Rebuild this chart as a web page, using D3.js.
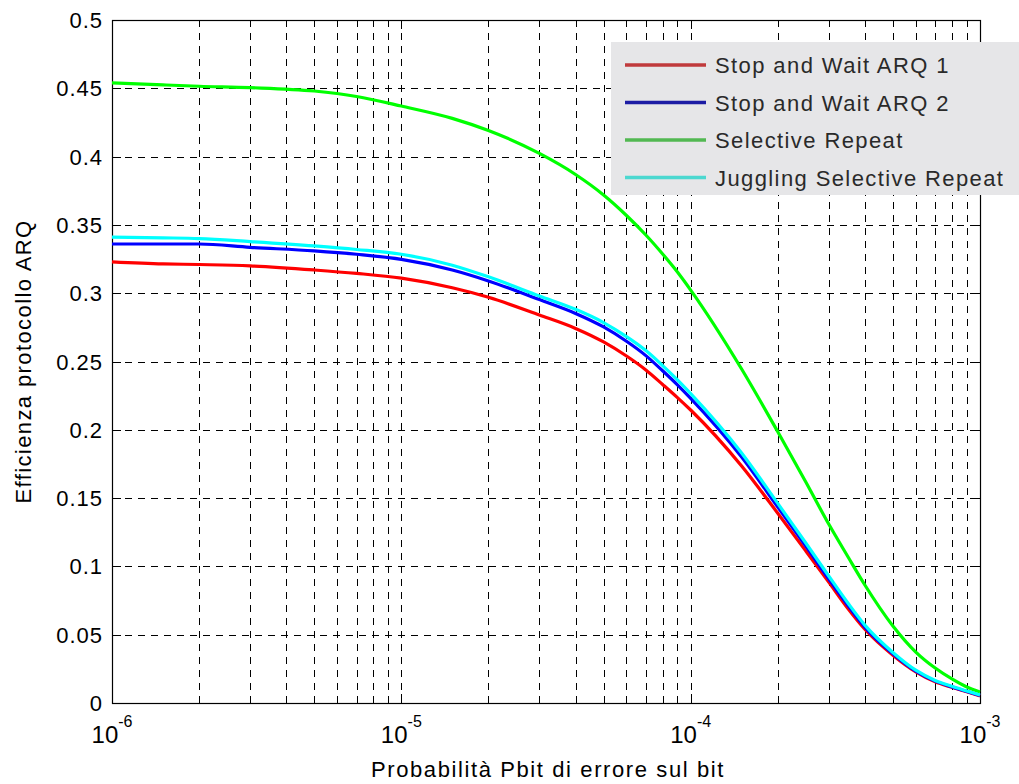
<!DOCTYPE html>
<html>
<head>
<meta charset="utf-8">
<script src="https://cdn.jsdelivr.net/npm/d3@7"></script>
<style>
  body { margin: 0; background: #fff; }
  svg { display: block; }
  text { font-family: "Liberation Sans", Arial, sans-serif; fill: #000; }
</style>
</head>
<body>
<svg width="1019" height="784"></svg>
<script>
// probabilita' di errore sul bit (asse x, log)
var pbit = [1e-6, 1.5e-6, 2e-6, 3e-6, 5e-6, 7e-6, 1e-5, 1.5e-5, 2e-5, 3e-5, 4e-5, 5e-5, 6e-5, 7e-5, 8e-5, 9e-5,
            1e-4, 1.5e-4, 2e-4, 2.5e-4, 3e-4, 3.5e-4, 4e-4, 5e-4, 6e-4, 7e-4, 8e-4, 9e-4, 1e-3]

var sw1 = [0.323, 0.3215, 0.321, 0.320, 0.317, 0.3145, 0.311, 0.304, 0.297, 0.284, 0.2742, 0.2643, 0.254, 0.2438, 0.2332, 0.2236,
           0.2145, 0.1735, 0.1389, 0.1113, 0.0885, 0.069, 0.054, 0.035, 0.0228, 0.0155, 0.0115, 0.0082, 0.0052]
var sw2 = [0.336, 0.336, 0.336, 0.3336, 0.331, 0.3285, 0.3248, 0.317, 0.309, 0.2953, 0.2852, 0.2753, 0.2648, 0.2543, 0.2432, 0.2329,
           0.223, 0.180, 0.1435, 0.1148, 0.0908, 0.0712, 0.0555, 0.036, 0.0233, 0.016, 0.0118, 0.0085, 0.0055]
var sr  = [0.454, 0.4525, 0.4515, 0.4505, 0.448, 0.444, 0.437, 0.428, 0.4191, 0.4023, 0.3869, 0.3719, 0.3569, 0.3426, 0.3287, 0.3155,
           0.3023, 0.2445, 0.1986, 0.1618, 0.131, 0.1069, 0.0864, 0.0564, 0.0373, 0.0256, 0.0176, 0.0117, 0.0081]
var jsr = [0.341, 0.3405, 0.340, 0.3378, 0.3346, 0.332, 0.3285, 0.3205, 0.312, 0.298, 0.2882, 0.2785, 0.2682, 0.258, 0.247, 0.2366,
           0.2265, 0.183, 0.1461, 0.1171, 0.093, 0.073, 0.057, 0.037, 0.024, 0.0165, 0.0122, 0.0088, 0.0058]

var seriesNames = ["Stop and Wait ARQ 1", "Stop and Wait ARQ 2", "Selective Repeat", "Juggling Selective Repeat"]
var seriesData = [sw1, sw2, sr, jsr]
var lineColors = ["#ff0000", "#0000ff", "#00ff00", "#00ffff"]
var legendColors = ["#c03a3c", "#1c1ca4", "#52b852", "#4cd8d0"]

var yTicks = [0, 0.05, 0.1, 0.15, 0.2, 0.25, 0.3, 0.35, 0.4, 0.45, 0.5]
var xDecades = [1e-6, 1e-5, 1e-4, 1e-3]
var xLabel = "Probabilità Pbit di errore sul bit"
var yLabel = "Efficienza protocollo ARQ"

var svg = d3.select('svg')
var pLeft = 112, pRight = 980, pTop = 20, pBottom = 703

var x = d3.scaleLog().domain([1e-6, 1e-3]).range([pLeft, pRight])
var y = d3.scaleLinear().domain([0, 0.5]).range([pBottom, pTop])

var allX = x.ticks()
var grid = svg.append('g')
  .attr('stroke', '#000')
  .attr('stroke-width', 1)
  .attr('stroke-dasharray', '7,6')

grid.selectAll('.vg').data(allX.filter(function(d){ return d > 1e-6 && d < 1e-3 }))
  .enter().append('line')
  .attr('x1', function(d){ return Math.round(x(d)) + 0.5 })
  .attr('x2', function(d){ return Math.round(x(d)) + 0.5 })
  .attr('y1', pBottom).attr('y2', pTop)

grid.selectAll('.hg').data(yTicks.slice(1, -1))
  .enter().append('line')
  .attr('y1', function(d){ return Math.round(y(d)) + 0.5 })
  .attr('y2', function(d){ return Math.round(y(d)) + 0.5 })
  .attr('x1', pLeft).attr('x2', pRight)

// ticks inward on all 4 sides
var ticks = svg.append('g').attr('stroke', '#000').attr('stroke-width', 1)
allX.forEach(function(d){
  var isMajor = xDecades.indexOf(d) >= 0
  var len = isMajor ? 9 : 5
  var px = Math.round(x(d)) + 0.5
  ticks.append('line').attr('x1', px).attr('x2', px).attr('y1', pBottom).attr('y2', pBottom - len)
  ticks.append('line').attr('x1', px).attr('x2', px).attr('y1', pTop).attr('y2', pTop + len)
})
yTicks.forEach(function(d){
  var py = Math.round(y(d)) + 0.5
  ticks.append('line').attr('x1', pLeft).attr('x2', pLeft + 9).attr('y1', py).attr('y2', py)
  ticks.append('line').attr('x1', pRight).attr('x2', pRight - 9).attr('y1', py).attr('y2', py)
})

svg.append('rect')
  .attr('x', pLeft + 0.5).attr('y', pTop + 0.5)
  .attr('width', pRight - pLeft).attr('height', pBottom - pTop)
  .attr('fill', 'none').attr('stroke', '#000').attr('stroke-width', 1.2)

// curves
var line = d3.line()
  .x(function(d, i){ return x(pbit[i]) })
  .y(function(d){ return y(d) })
  .curve(d3.curveMonotoneX)

seriesData.forEach(function(s, i){
  svg.append('path')
    .datum(s)
    .attr('d', line)
    .attr('fill', 'none')
    .attr('stroke', lineColors[i])
    .attr('stroke-width', 3.2)
    .attr('stroke-linejoin', 'round')
})

// y tick labels
svg.selectAll('.ylab').data(yTicks).enter().append('text')
  .attr('x', 103)
  .attr('y', function(d){ return y(d) + 8 })
  .attr('text-anchor', 'end')
  .attr('font-size', 22)
  .attr('letter-spacing', 1)
  .text(function(d){ return String(+d.toFixed(2)) })

// x tick labels 10^n
xDecades.forEach(function(d){
  var t = svg.append('text')
    .attr('x', x(d))
    .attr('y', 743)
    .attr('text-anchor', 'middle')
    .attr('font-size', 24)
  t.append('tspan').text('10')
  t.append('tspan').attr('font-size', 16).attr('dy', -16).text(String(Math.round(Math.log10(d))))
})

svg.append('text')
  .attr('x', (pLeft + pRight) / 2 + 2)
  .attr('y', 777)
  .attr('text-anchor', 'middle')
  .attr('font-size', 22)
  .attr('letter-spacing', 1.6)
  .text(xLabel)

svg.append('text')
  .attr('transform', 'translate(31,' + ((pTop + pBottom) / 2) + ') rotate(-90)')
  .attr('text-anchor', 'middle')
  .attr('font-size', 22)
  .attr('letter-spacing', 1.4)
  .text(yLabel)

// legend (covers the top right)
var lg = svg.append('g')
lg.append('rect')
  .attr('x', 611).attr('y', 42)
  .attr('width', 420).attr('height', 153)
  .attr('fill', '#e6e6e8')
seriesNames.forEach(function(name, i){
  var ly = 65 + i * 37.5
  lg.append('line')
    .attr('x1', 625).attr('x2', 706)
    .attr('y1', ly).attr('y2', ly)
    .attr('stroke', legendColors[i])
    .attr('stroke-width', 3.5)
  lg.append('text')
    .attr('x', 715).attr('y', ly + 8)
    .attr('font-size', 22)
    .attr('letter-spacing', 1.4)
    .style('fill', '#2a2a2a')
    .text(name)
})
</script>
</body>
</html>
